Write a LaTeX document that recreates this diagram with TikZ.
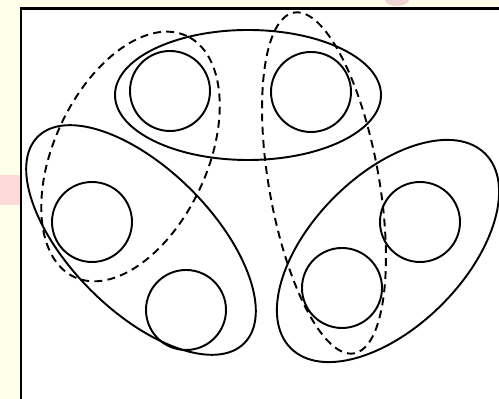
\documentclass[tikz,border=0pt]{standalone}
\usepackage{xcolor}
\usepackage{tikz}

\definecolor{slideyellow}{RGB}{255,255,234}
\definecolor{slidepink}{RGB}{255,218,218}
\definecolor{slideblot}{RGB}{238,214,210}

\begin{document}
\begin{tikzpicture}[
    member/.style={draw, circle, line width=1.1pt, minimum size=1.6cm, inner sep=0pt},
    cluster/.style={draw, line width=1.1pt},
    cover/.style={draw, line width=1.1pt, dash pattern=on 4.5pt off 3pt},
    frame/.style={draw, line width=1.2pt, fill=white}
]

% slide background
\useasboundingbox (0,0) rectangle (9.98,7.98);
\clip (0,0) rectangle (9.98,7.98);
\fill[slideyellow] (0,0) rectangle (9.98,7.98);
\fill[slidepink] (0,3.88) rectangle (0.42,4.48);
\fill[slideblot] (7.94,7.98) ellipse [x radius=0.24, y radius=0.12];
\draw[frame] (0.42,-0.5) rectangle (10.5,7.81);

% the six elements
\node[member] (m1) at (3.40,6.16) {};
\node[member] (m2) at (6.22,6.14) {};
\node[member] (m3) at (1.84,3.54) {};
\node[member] (m4) at (3.72,1.78) {};
\node[member] (m5) at (6.84,2.22) {};
\node[member] (m6) at (8.40,3.54) {};

% solid groups
\draw[cluster] (4.96,6.08) ellipse [x radius=2.66, y radius=1.30];
\draw[cluster] (2.82,3.18) ellipse [x radius=2.92, y radius=1.42, rotate=-45];
\draw[cluster] (7.76,2.96) ellipse [x radius=2.75, y radius=1.52, rotate=45];

% dashed groups
\draw[cover] (2.61,4.85) ellipse [x radius=2.66, y radius=1.53, rotate=65];
\draw[cover] (6.48,4.32) ellipse [x radius=1.10, y radius=3.46, rotate=10];

\end{tikzpicture}
\end{document}
